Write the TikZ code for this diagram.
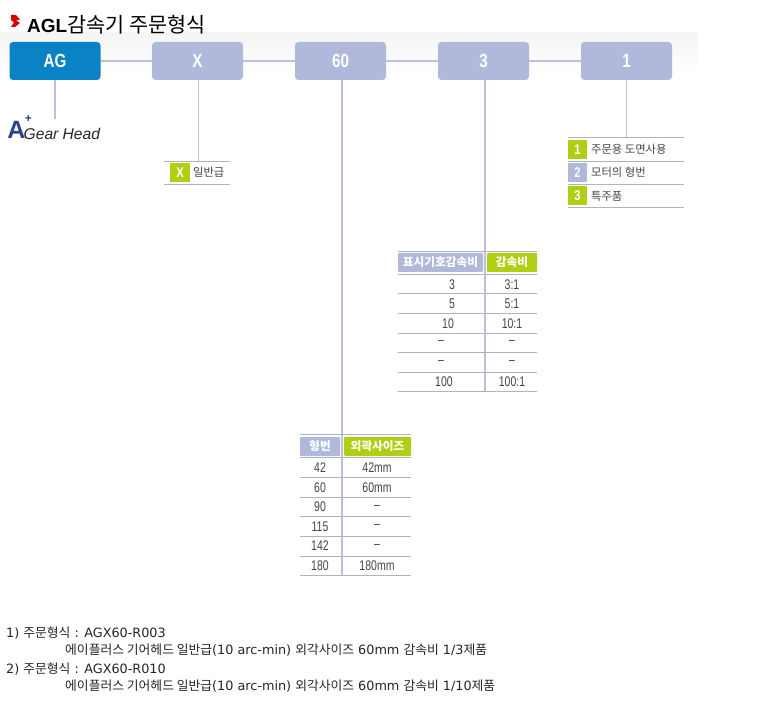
\documentclass[tikz,border=0pt]{standalone}
\usepackage{fontspec}
\setmainfont{Liberation Sans}
\newfontfamily\kr{Noto Sans CJK KR}
\newfontfamily\web{DejaVu Sans}
\newfontfamily\narrow[FakeStretch=0.8]{Liberation Sans}
\newfontfamily\cellfont[FakeStretch=0.75]{Liberation Sans}
\usetikzlibrary{calc}
\definecolor{agblue}{RGB}{10,130,198}
\definecolor{lav}{RGB}{176,184,220}
\definecolor{lime}{RGB}{174,207,20}
\definecolor{conn}{RGB}{188,192,216}
\definecolor{rule}{RGB}{176,178,198}
\definecolor{txt}{RGB}{70,70,70}
\definecolor{navy}{RGB}{45,65,140}
\tikzset{
 x=1pt,y=-1pt,
 mainbox/.style={rounded corners=3.5pt,minimum width=91pt,minimum height=38pt,inner sep=0pt,text=white,font=\narrow\fontsize{19}{19}\selectfont\bfseries,fill=lav},
 conline/.style={draw=conn,line width=1.1pt},
 tline/.style={draw=rule,line width=0.8pt},
 cell/.style={inner sep=0pt,text=txt,font=\cellfont\fontsize{14}{14}\selectfont},
 krcell/.style={inner sep=0pt,text=txt,anchor=west,font=\kr\fontsize{11.3}{12}\selectfont},
 badge/.style={inner sep=0pt,minimum width=19pt,minimum height=19pt,text=white,font=\narrow\fontsize{14}{14}\selectfont\bfseries},
 head/.style={inner sep=0pt,rounded corners=1pt,minimum height=19pt,text=white,font=\kr\fontsize{11.7}{13}\selectfont\bfseries},
 note/.style={inner sep=0pt,anchor=west,text=black!85,font=\web\fontsize{12.8}{14}\selectfont},
}
\newcommand{\K}[1]{{\kr #1}}
\begin{document}
\begin{tikzpicture}
\useasboundingbox (0,0) rectangle (763,711);
\fill[white] (0,0) rectangle (763,711);
\shade[top color=black!4,bottom color=white] (0,33) rectangle (698,76);
% title
\fill[red!85!black] (11,15) -- (16,15) -- (20,19.5) -- (16,20.5) -- (20,23) -- (15,27) -- (11,27) -- (14,22.5) -- (11,20) -- cycle;
\node[inner sep=0pt,anchor=west] (title) at (27,25) {\fontsize{19}{19}\selectfont\textbf{AGL}\kr\fontsize{20.7}{19}\selectfont 감속기 주문형식};
% main boxes
\node[mainbox,fill=agblue] (ag) at (55,61) {AG};
\node[mainbox] (bx) at (197.5,61) {X};
\node[mainbox] (b60) at (340.5,61) {60};
\node[mainbox] (b3) at (483.5,61) {3};
\node[mainbox] (b1) at (626.5,61) {1};
\draw[conline] (ag) -- (bx);
\draw[conline] (bx) -- (b60);
\draw[conline] (b60) -- (b3);
\draw[conline] (b3) -- (b1);
% free ends
\coordinate (e1) at (55,119);
\coordinate (ex) at (198.5,161);
\coordinate (e60) at (342,575);
\coordinate (e3) at (485,391);
\coordinate (eb1) at (626.5,138);
\draw[conline] (e1 |- ag.south) -- (e1);
\draw[conline] (ex |- bx.south) -- (ex);
\draw[conline] (e60 |- b60.south) -- (e60);
\draw[conline] (e3 |- b3.south) -- (e3);
\draw[conline] (eb1 |- b1.south) -- (eb1);
% logo
\node[inner sep=0pt,text=navy] (logoa) at (16.5,129.5) {\fontsize{25}{25}\selectfont\bfseries A};
\node[inner sep=0pt,text=navy] (logop) at (28.5,118.5) {\fontsize{12}{12}\selectfont\bfseries +};
\node[inner sep=0pt,anchor=west,text=black!85] (logot) at (23.5,134) {\fontsize{15.6}{16}\selectfont\itshape Gear Head};
% X table
\draw[tline] (164,161) -- (230,161) (164,184.5) -- (230,184.5);
\node[badge,fill=lime,minimum width=20pt] (xb) at (180,172.5) {X};
\node[krcell] (xt) at (193,172.5) {일반급};
% 1 table
\foreach \y in {137.5,161,184,207.5} \draw[tline] (568,\y) -- (684,\y);
\node[badge,fill=lime] (o1) at (577.5,149.5) {1};
\node[badge,fill=lav] (o2) at (577.5,172.5) {2};
\node[badge,fill=lime] (o3) at (577.5,196) {3};
\node[krcell] (ot1) at (591,149.5) {주문용 도면사용};
\node[krcell] (ot2) at (591,172.5) {모터의 형번};
\node[krcell] (ot3) at (591,196) {특주품};
% 3 table
\foreach \y in {251,274,293.5,313,333,352.5,372,391.5} \draw[tline] (398,\y) -- (537,\y);
\node[head,fill=lav,minimum width=85pt] (h31) at (440.5,262.5) {표시기호감속비};
\node[head,fill=lime,minimum width=50pt] (h32) at (512,262.5) {감속비};
\node[cell] at (452,284.5) {3};
\node[cell] at (512,284.5) {3:1};
\node[cell] at (452,304) {5};
\node[cell] at (512,304) {5:1};
\node[cell] at (448,323.5) {10};
\node[cell] at (512,323.5) {10:1};
\node[cell] at (441,342.5) {–};
\node[cell] at (512,342.5) {–};
\node[cell] at (441,362.5) {–};
\node[cell] at (512,362.5) {–};
\node[cell] at (444,382) {100};
\node[cell] at (512,382) {100:1};
% 60 table
\foreach \y in {434,457.5,477,497,516.5,536,556,575.5} \draw[tline] (300,\y) -- (411,\y);
\node[head,fill=lav,minimum width=40pt] (h61) at (320,446.5) {형번};
\node[head,fill=lime,minimum width=67pt] (h62) at (377.5,446.5) {외곽사이즈};
\foreach \y/\a/\b in {468/42/42mm,487.5/60/60mm,507/90/–,526.5/115/–,546/142/–,566/180/180mm}
 {\node[cell] at (320,\y) {\a}; \node[cell] at (377,\y) {\b};}
% notes
\node[note] (n1) at (6,632.5) {1) \K{주문형식} : AGX60-R003};
\node[note] (n2) at (65,650.5) {\K{에이플러스 기어헤드 일반급}(10 arc-min) \K{외각사이즈} 60mm \K{감속비} 1/3\K{제품}};
\node[note] (n3) at (6,668.5) {2) \K{주문형식} : AGX60-R010};
\node[note] (n4) at (65,686.5) {\K{에이플러스 기어헤드 일반급}(10 arc-min) \K{외각사이즈} 60mm \K{감속비} 1/10\K{제품}};
\end{tikzpicture}
\end{document}
